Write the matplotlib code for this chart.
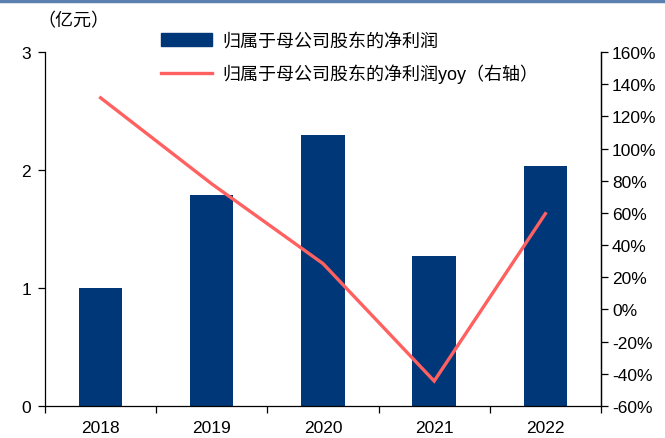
import numpy as np
import matplotlib.pyplot as plt
from matplotlib.lines import Line2D

plt.rcParams['font.family'] = ['Liberation Sans', 'Noto Sans CJK SC', 'DejaVu Sans']

years = ['2018', '2019', '2020', '2021', '2022']
profit = [1.00, 1.79, 2.30, 1.27, 2.03]          # 亿元
profit_yoy = [131.5, 78.0, 28.5, -44.5, 59.5]     # %

bar_color = '#003778'
line_color = '#ff6161'

fig = plt.figure(figsize=(6.65, 4.39), dpi=100)
ax = fig.add_axes([0.0677, 0.0729, 0.836, 0.8064])
ax2 = ax.twinx()

x = np.arange(len(years))
ax.bar(x, profit, width=0.39, color=bar_color, zorder=2)
ax2.plot(x, profit_yoy, color=line_color, linewidth=2.4, solid_joinstyle='miter', zorder=3)

ax.set_xlim(-0.5, len(years) - 0.5)
ax.set_ylim(0, 3)
ax.set_yticks([0, 1, 2, 3])
ax2.set_ylim(-60, 160)
ax2.set_yticks(np.arange(-60, 161, 20))
ax2.set_yticklabels([f'{v}%' for v in range(-60, 161, 20)])

# x ticks at category boundaries, labels centred
ax.set_xticks(np.arange(-0.5, len(years), 1))
ax.set_xticklabels([])
ax.set_xticks(x, minor=True)
ax.set_xticklabels(years, minor=True)
ax.tick_params(axis='x', which='minor', length=0, pad=10, labelsize=12.5)
ax.tick_params(axis='x', which='major', length=5, direction='out', width=0.9)
ax.tick_params(axis='y', length=5, width=0.9, labelsize=12.5, pad=5)
ax2.tick_params(axis='y', length=5, width=0.9, labelsize=12.5, pad=3)

for a in (ax, ax2):
    a.spines['top'].set_visible(False)
    for s in ('left', 'right', 'bottom'):
        a.spines[s].set_linewidth(0.9)
        a.spines[s].set_color('black')
ax2.spines['left'].set_visible(False)
ax2.spines['bottom'].set_visible(False)

# header rule
fig.add_artist(Line2D([0, 1], [0.996, 0.996], color='#5b80b0', linewidth=2.5))

fig.text(0.057, 0.952, '（亿元）', fontsize=13, va='center', family=['Noto Sans CJK SC'])

handles = [plt.Rectangle((0, 0), 1, 1, color=bar_color),
           Line2D([0], [0], color=line_color, linewidth=2.4)]
labels = ['归属于母公司股东的净利润', '归属于母公司股东的净利润yoy（右轴）']
fig.legend(handles, labels, loc='upper left', bbox_to_anchor=(0.218, 0.96),
           frameon=False, handlelength=2.8, handletextpad=0.6,
           labelspacing=0.75, prop={'family': ['Liberation Sans', 'Noto Sans CJK SC'], 'size': 13})

fig.savefig('out.png', dpi=100)
